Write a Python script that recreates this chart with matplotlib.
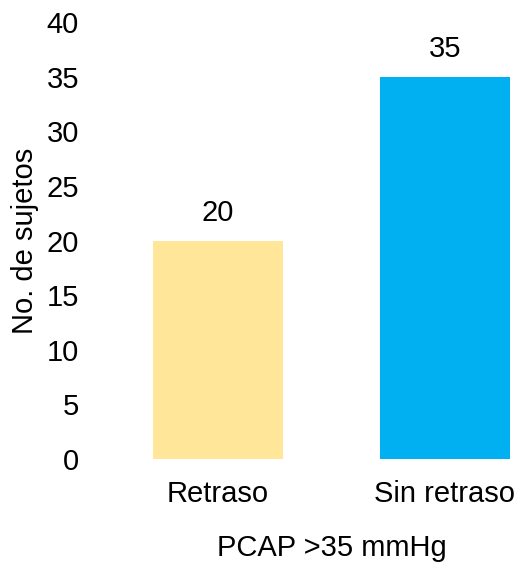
import matplotlib.pyplot as plt

plt.rcParams["font.family"] = ["Liberation Sans", "DejaVu Sans"]

categories = ["Retraso", "Sin retraso"]
counts = [20, 35]
colors = ["#FFE699", "#00B0F0"]

W, H = 518, 565
fig = plt.figure(figsize=(W / 100, H / 100), dpi=100)
fs = 21

# axes placed in pixel terms
left, right, bottom, top = 140, 515, 459, 22
ax = fig.add_axes([left / W, (H - bottom) / H, (right - left) / W, (bottom - top) / H])

x = range(len(categories))
bars = ax.bar(x, counts, width=0.573, color=colors)

for b, v in zip(bars, counts):
    ax.annotate(str(v), (b.get_x() + b.get_width() / 2, v),
                xytext=(0, 9.5), textcoords="offset points",
                ha="center", va="bottom", fontsize=fs)

ax.set_xlim((left - 218) / 227, (right - 218) / 227)
ax.set_ylim(0, 40)
ax.set_yticks(range(0, 41, 5))
ax.set_xticks(list(x))
ax.set_xticklabels(categories)
ax.tick_params(axis="both", length=0, labelsize=fs)
ax.tick_params(axis="y", pad=44)
ax.tick_params(axis="x", pad=15)

ax.set_ylabel("No. de sujetos", fontsize=fs, labelpad=5)
ax.set_xlabel("PCAP >35 mmHg", fontsize=fs)
ax.xaxis.set_label_coords((332 - left) / (right - left), -0.172)

for s in ax.spines.values():
    s.set_visible(False)

fig.savefig("out.png", dpi=100)
